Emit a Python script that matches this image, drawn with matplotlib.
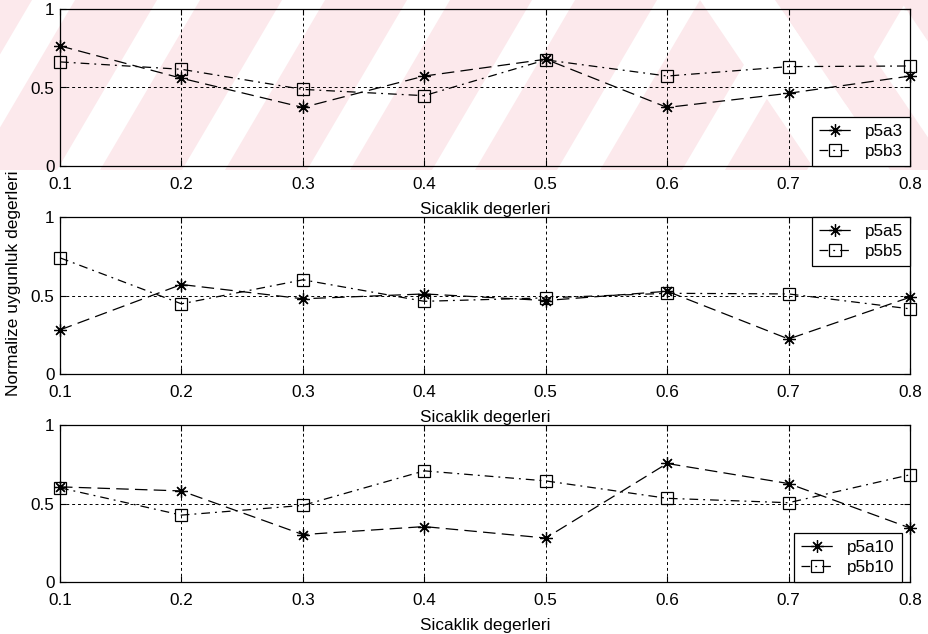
import matplotlib
matplotlib.use("Agg")
import matplotlib.pyplot as plt
import matplotlib.transforms as mtransforms
from matplotlib.patches import Polygon

plt.rcParams['font.family'] = ['Liberation Sans', 'DejaVu Sans']

temperature = [0.1, 0.2, 0.3, 0.4, 0.5, 0.6, 0.7, 0.8]
x_ticks = [0.1, 0.2, 0.3, 0.4, 0.5, 0.6, 0.7, 0.8]
y_ticks = [0, 0.5, 1]

p5a3 = [0.765, 0.559, 0.373, 0.573, 0.680, 0.373, 0.463, 0.573]
p5b3 = [0.663, 0.616, 0.488, 0.448, 0.676, 0.573, 0.633, 0.637]

p5a5 = [0.281, 0.570, 0.479, 0.510, 0.468, 0.527, 0.223, 0.489]
p5b5 = [0.740, 0.447, 0.600, 0.463, 0.485, 0.514, 0.510, 0.415]

p5a10 = [0.606, 0.580, 0.302, 0.353, 0.280, 0.755, 0.627, 0.344]
p5b10 = [0.600, 0.426, 0.488, 0.708, 0.644, 0.533, 0.505, 0.683]

# (series a, series b, label a, label b, legend loc, legend anchor)
panels = [
    (p5a3, p5b3, 'p5a3', 'p5b3', 'lower right', (1.0, 0.0)),
    (p5a5, p5b5, 'p5a5', 'p5b5', 'upper right', (1.0, 1.0)),
    (p5a10, p5b10, 'p5a10', 'p5b10', 'lower right', (0.99, 0.0)),
]

W, H = 929, 634
fig = plt.figure(figsize=(W / 100, H / 100), dpi=100)
fig.patch.set_facecolor('white')

# pixel coordinates measured from the top-left corner of the figure
px = mtransforms.Affine2D().scale(1 / W, -1 / H).translate(0, 1) + fig.transFigure

# faint diagonal band pattern across the top strip
pink = (0.988, 0.915, 0.925)
band_top, band_bot = 0, 170
shift = 100
period, width = 125, 82
for x0 in range(-150, 760, period):
    poly = [(x0, band_bot), (x0 + width, band_bot),
            (x0 + width + shift, band_top), (x0 + shift, band_top)]
    fig.patches.append(Polygon(poly, closed=True, transform=px,
                               facecolor=pink, edgecolor='none', zorder=-5))
# backslash bands on the right side
for x0 in [775, 900]:
    poly = [(x0, band_top), (x0 + 60, band_top),
            (x0 + 60 + 115, band_bot), (x0 + 115, band_bot)]
    fig.patches.append(Polygon(poly, closed=True, transform=px,
                               facecolor=pink, edgecolor='none', zorder=-5))
# clear the strip between the slash and backslash patterns
fig.patches.append(Polygon([(700, band_top), (775, band_top), (890, band_bot), (815, band_bot)],
                           closed=True, transform=px, facecolor='white',
                           edgecolor='none', zorder=-4))

left, right = 60 / W, 910 / W
tops = [9, 217, 425]
ax_h = 157
fs = 12.3

asterisk = (8, 2, 0)
grid_style = (0, (3, 3))
for (ya, yb, la, lb, loc, anchor), top in zip(panels, tops):
    ax = fig.add_axes([left, 1 - (top + ax_h) / H, right - left, ax_h / H])
    ax.set_facecolor('none')
    ax.plot(temperature, ya, color='black', lw=0.9, ls=(0, (10, 5)),
            marker=asterisk, ms=9, mew=0.9, label=la, clip_on=False)
    ax.plot(temperature, yb, color='black', lw=0.9, ls=(0, (7, 4, 1.5, 4)),
            marker='s', ms=9, mfc='none', mew=0.9, label=lb, clip_on=False)
    ax.set_xlim(0.1, 0.8)
    ax.set_ylim(0, 1)
    ax.set_xticks(x_ticks)
    ax.set_xticklabels([f'{v:.1f}' for v in x_ticks])
    ax.set_yticks(y_ticks)
    ax.set_yticklabels(['0', '0.5', '1'])
    ax.tick_params(direction='in', length=4, width=0.8, labelsize=fs,
                   top=True, right=True)
    ax.tick_params(axis='x', pad=8)
    ax.tick_params(axis='y', pad=4)
    ax.grid(True, color='black', lw=0.7, ls=grid_style)
    for sp in ax.spines.values():
        sp.set_linewidth(0.9)
    ax.set_xlabel('Sicaklik degerleri', fontsize=fs, labelpad=7)
    leg = ax.legend(loc=loc, bbox_to_anchor=anchor, fontsize=fs, frameon=True,
                    fancybox=False, edgecolor='black', framealpha=1,
                    borderaxespad=0, handlelength=1.9, handletextpad=0.8,
                    borderpad=0.4, labelspacing=0.3)
    leg.get_frame().set_linewidth(0.9)

fig.text(14 / W, 1 - 283 / H, 'Normalize uygunluk degerleri', rotation=90,
         ha='center', va='center', fontsize=12.5)

fig.savefig('out.png', dpi=100)
